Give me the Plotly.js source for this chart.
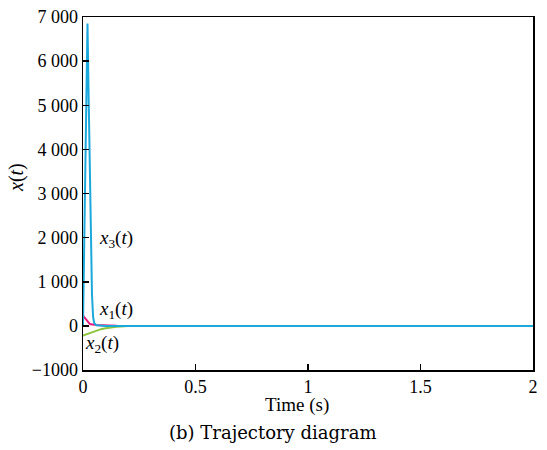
<!DOCTYPE html>
<html><head><meta charset="utf-8">
<script src="https://cdn.plot.ly/plotly-3.0.1.min.js"></script>
<style>html,body{margin:0;padding:0;background:#fff}#c{width:547px;height:450px}</style>
</head><body><div id="c"></div>
<script>
var t  = [0, 0.005, 0.01, 0.015, 0.02, 0.025, 0.03, 0.035, 0.04, 0.045, 0.05, 0.06, 0.08, 0.1, 0.12, 0.15, 0.2, 0.3, 0.5, 1, 1.5, 2];
var x1 = [230, 200, 160, 120, 90, 65, 45, 35, 30, 28, 26, 22, 16, 10, 6, 2, 0, 0, 0, 0, 0, 0];
var x2 = [-220, -210, -200, -190, -180, -170, -160, -150, -140, -130, -120, -100, -75, -55, -38, -20, -5, 0, 0, 0, 0, 0];
var x3 = [0, 1800, 3800, 5800, 6850, 5200, 3300, 1700, 700, 200, 60, 15, 3, 0, 0, 0, 0, 0, 0, 0, 0, 0];
var yTickVals = [-1000, 0, 1000, 2000, 3000, 4000, 5000, 6000, 7000];
var yTickText = ["\u22121000", "0", "1 000", "2 000", "3 000", "4 000", "5 000", "6 000", "7 000"];
var xTickVals = [0, 0.5, 1, 1.5, 2];
var xTickText = ["0", "0.5", "1", "1.5", "2"];

var serif = "Liberation Serif";
var traces = [
  {x: t, y: x2, mode: "lines", line: {color: "#8dc63f", width: 2}, hoverinfo: "skip"},
  {x: t, y: x1, mode: "lines", line: {color: "#e5197f", width: 2}, hoverinfo: "skip"},
  {x: t, y: x3, mode: "lines", line: {color: "#1ba9dc", width: 2}, hoverinfo: "skip"}
];
var axCommon = {showgrid: false, zeroline: false, showline: true, mirror: true, linecolor: "#000", linewidth: 1.5,
  ticks: "inside", ticklen: 6, tickwidth: 1.5, tickcolor: "#000", tickfont: {family: serif, size: 18, color: "#000"}};
var layout = {
  width: 547, height: 450,
  margin: {l: 83, r: 14, t: 17, b: 80},
  paper_bgcolor: "#fff", plot_bgcolor: "#fff",
  showlegend: false,
  xaxis: Object.assign({}, axCommon, {range: [0, 2], tickvals: xTickVals, ticktext: xTickText}),
  yaxis: Object.assign({}, axCommon, {range: [-1000, 7000], tickvals: yTickVals, ticktext: yTickText}),
  annotations: [
    {xref: "paper", yref: "paper", x: (297 - 83) / 450, y: -(405 - 370) / 353, xanchor: "center", yanchor: "middle", showarrow: false,
     text: "Time (s)", font: {family: serif, size: 19, color: "#000"}},
    {xref: "paper", yref: "paper", x: -(83 - 17) / 450, y: (370 - 178) / 353, xanchor: "center", yanchor: "middle", showarrow: false,
     textangle: -90, text: "<i>x</i>(<i>t</i>)", font: {family: serif, size: 20, color: "#000"}},
    {xref: "paper", yref: "paper", x: 0.03, y: 0.37, xanchor: "left", yanchor: "middle", showarrow: false,
     text: "<i>x</i><sub>3</sub>(<i>t</i>)", font: {family: serif, size: 19, color: "#000"}},
    {xref: "paper", yref: "paper", x: 0.03, y: 0.17, xanchor: "left", yanchor: "middle", showarrow: false,
     text: "<i>x</i><sub>1</sub>(<i>t</i>)", font: {family: serif, size: 19, color: "#000"}},
    {xref: "paper", yref: "paper", x: 0.0, y: 0.075, xanchor: "left", yanchor: "middle", showarrow: false,
     text: "<i>x</i><sub>2</sub>(<i>t</i>)", font: {family: serif, size: 19, color: "#000"}},
    {xref: "paper", yref: "paper", x: (272 - 83) / 450, y: -(432 - 370) / 353, xanchor: "center", yanchor: "middle", showarrow: false,
     text: "(b) Trajectory diagram", font: {family: "DejaVu Serif", size: 18, color: "#000"}}
  ]
};
Plotly.newPlot("c", traces, layout, {displayModeBar: false, staticPlot: true});
</script></body></html>
